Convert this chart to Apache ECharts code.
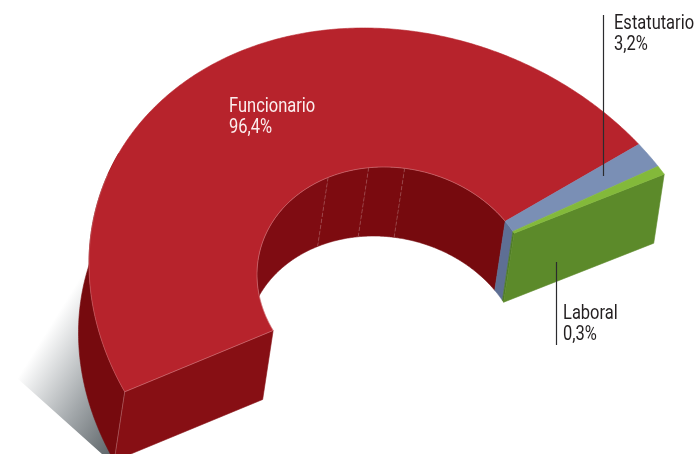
<!DOCTYPE html>
<html><head><meta charset="utf-8">
<style>html,body{margin:0;padding:0;background:#fff}#c{width:697px;height:454px}</style>
<script src="https://cdn.jsdelivr.net/npm/echarts@6/dist/echarts.min.js"></script>
</head><body><div id="c"></div>
<script>
const categories = ['Funcionario','Estatutario','Laboral'];
const shares = [96.4, 3.2, 0.3];

const topColors  = ['#b7232c','#7a8fb5','#83b93a'];
const wallColors = ['#760a0e','#5e6f94','#4d7a26'];
const faceColors = ['#870f14','#5e6f94','#5c8a2a'];
const facetColors = ['#7f0c12','#7d0b10','#7a0a0f','#760a0e'];
const facetAngles = [241,259,274];

const outer = {cx:405,cy:299,X:316,Y:271,r:0.13,start:152.5,unit:1.714,minAngle:1.9};
const inner = {cx:395,cy:284,X:138,Y:117,r:0.08,start:152,unit:1.774,minAngle:1.0};
const depth = [-10.5,69];
const innerHoleStartTop = 169.6, innerHoleStartBottom = 204.6, outerWallEnd = 205;

function pt(e,deg,off){
  const t=deg*Math.PI/180, c=Math.cos(t), s=Math.sin(t);
  const o=off?depth:[0,0];
  return [e.cx+e.X*c+o[0], e.cy+e.Y*(e.r*c+Math.sqrt(1-e.r*e.r)*s)+o[1]];
}
function arc(e,a,b,off){
  const n=Math.max(2,Math.ceil(Math.abs(b-a))*2), out=[];
  for(let i=0;i<=n;i++) out.push(pt(e,a+(b-a)*i/n,off));
  return out;
}
function bounds(e){
  const out=[e.start]; let a=e.start;
  shares.forEach(v=>{a+=Math.max(v*e.unit,e.minAngle); out.push(a);});
  return out;
}
const ob=bounds(outer), ib=bounds(inner);
const poly=(points,fill,z2,stroke,lw)=>({type:'polygon',z2,shape:{points},silent:true,
  style:{fill,stroke:stroke||fill,lineWidth:lw===undefined?0.6:lw}});
const edge=(points,z2,color)=>({type:'polyline',z2,shape:{points},silent:true,
  style:{fill:'none',stroke:color||'rgba(255,255,255,0.35)',lineWidth:0.7}});

function pct(v){return v.toFixed(1).replace('.',',')+'%';}
const labelLayout = [
  {x:229,y:96,color:'#fbeeee'},
  {x:614,y:13,color:'#231f20'},
  {x:563,y:303,color:'#231f20'}
];
const leaders = [null,{x:603.5,y1:15,y2:176},{x:556.5,y1:262,y2:345}];

function renderSlice(params,api){
  const i=params.dataIndex, kids=[];
  const oa=ob[i],oe=ob[i+1],ia=ib[i],ie=ib[i+1];
  kids.push(poly(arc(outer,oa,oe).concat(arc(inner,ie,ia)),topColors[i],10));
  if(i===0){
    kids.push({type:'polygon',z2:0,silent:true,
      shape:{points:[[17,378],pt(outer,186),pt(outer,192,true),pt(outer,oa-2,true)]},
      style:{fill:{type:'linear',x:113,y:450,x2:12,y2:387,global:true,
        colorStops:[{offset:0,color:'#5f666a'},{offset:0.45,color:'#a3a8ab'},{offset:1,color:'#ffffff'}]}}});
    kids.push(poly(arc(outer,oa,outerWallEnd).concat(arc(outer,outerWallEnd,oa,true)),wallColors[0],1));
    const stops=[innerHoleStartTop].concat(facetAngles,[ie]);
    stops.slice(0,-1).forEach((a,k)=>{
      const b=stops[k+1], a2=k===0?innerHoleStartBottom:a;
      kids.push(poly(arc(inner,a,b).concat(arc(inner,b,a2,true)),facetColors[k],2));
    });
    facetAngles.forEach(a=>kids.push({type:'line',z2:3,silent:true,
      shape:{x1:pt(inner,a)[0],y1:pt(inner,a)[1],x2:pt(inner,a,true)[0],y2:pt(inner,a,true)[1]},
      style:{stroke:'rgba(255,255,255,0.3)',lineWidth:0.7,lineDash:[4,2]}}));
    const p=[pt(outer,oa),pt(inner,ia),pt(inner,ia,true),pt(outer,oa,true)];
    kids.push(poly(p,faceColors[0],4));
    kids.push(edge([p[0],p[1]],11));
    kids.push(edge([p[0],p[3]],11));
    kids.push(edge(arc(inner,ia,ie),11));
    kids.push(edge(arc(outer,oa,200),11,'rgba(255,255,255,0.25)'));
  } else {
    kids.push(poly(arc(inner,ia,ie).concat(arc(inner,ie,ia,true)),wallColors[i],3));
  }
  if(i===shares.length-1){
    kids.push(poly([pt(outer,oe),pt(inner,ie),pt(inner,ie,true),pt(outer,oe,true)],faceColors[i],5));
  }
  const L=labelLayout[i];
  kids.push({type:'group',x:L.x,y:L.y,scaleX:0.785,scaleY:1,children:[{type:'text',z2:20,silent:true,style:{
    text:categories[i]+'\n'+pct(shares[i]),fill:L.color,
    font:'21px Roboto,"Liberation Sans",sans-serif',lineHeight:21}}]});
  if(leaders[i]) kids.push({type:'line',z2:19,silent:true,
    shape:{x1:leaders[i].x,y1:leaders[i].y1,x2:leaders[i].x,y2:leaders[i].y2},
    style:{stroke:'#2b2b2e',lineWidth:1.2}});
  return {type:'group',children:kids};
}

const chart=echarts.init(document.getElementById('c'),null,{renderer:'canvas'});
chart.setOption({
  animation:false,
  backgroundColor:'#ffffff',
  series:[{type:'custom',coordinateSystem:'none',silent:true,
    data:shares.map((v,i)=>({name:categories[i],value:[v]})),
    renderItem:renderSlice}]
});
</script></body></html>
